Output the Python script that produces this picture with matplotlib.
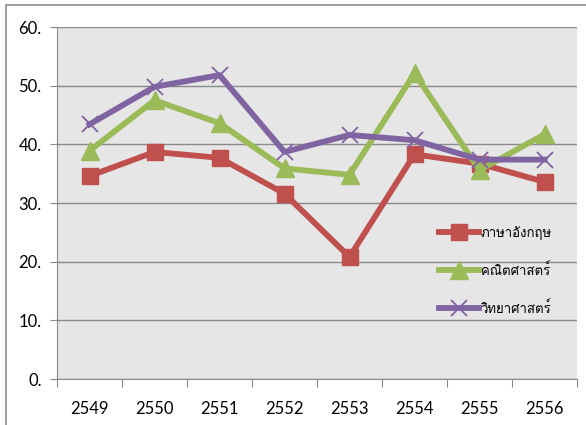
import matplotlib
matplotlib.use("Agg")
import matplotlib.pyplot as plt
from matplotlib import font_manager
from matplotlib.ft2font import FT2Font
from matplotlib.patches import Rectangle

years = ["2549", "2550", "2551", "2552", "2553", "2554", "2555", "2556"]
english = [34.6, 38.7, 37.7, 31.6, 20.8, 38.3, 36.7, 33.6]
math = [38.9, 47.5, 43.6, 35.9, 34.8, 52.1, 35.6, 41.7]
science = [43.4, 49.8, 51.8, 38.7, 41.6, 40.7, 37.4, 37.4]
series_names = ["ภาษาอังกฤษ", "คณิตศาสตร์", "วิทยาศาสตร์"]
yticks = [0, 10, 20, 30, 40, 50, 60]
ytick_labels = ["0.", "10.", "20.", "30.", "40.", "50.", "60."]

# find a font with Thai glyphs
thai_font = None
for f in font_manager.fontManager.ttflist:
    try:
        cm = FT2Font(f.fname).get_charmap()
        if 0x0E20 in cm and 0x0E29 in cm:
            thai_font = f.name
            break
    except Exception:
        pass
fams = ([thai_font] if thai_font else []) + ["DejaVu Sans"]

fig = plt.figure(figsize=(5.86, 4.25), dpi=100)
fig.patch.set_facecolor("white")
fig.patches.append(Rectangle((6/586, -0.02), 1.0, 1 - 5/425 + 0.02, transform=fig.transFigure,
                             fill=False, edgecolor="#8c8c8c", linewidth=1.2))
ax = fig.add_axes([57/586, 1 - 379/425, 520/586, 352/425])
ax.set_facecolor("#e6e6e6")

x = list(range(len(years)))
lw = 4.2
ax.plot(x, english, color="#c0504d", lw=lw, marker="s", markersize=11, label=series_names[0], zorder=3)
ax.plot(x, math, color="#9bbb59", lw=lw, marker="^", markersize=13, label=series_names[1], zorder=3)
ax.plot(x, science, color="#8064a2", lw=lw, marker="x", markersize=12, markeredgewidth=1.3, label=series_names[2], zorder=4)

ax.set_xlim(-0.5, 7.5)
ax.set_ylim(0, 60)
ax.set_yticks(yticks)
ax.set_yticklabels(ytick_labels, fontsize=12, family=["Lato", "DejaVu Sans"])
ax.yaxis.grid(True, color="#8a8a8a", linewidth=1.0)
ax.set_axisbelow(True)
ax.set_xticks([i - 0.5 for i in range(len(years) + 1)])
ax.set_xticklabels([])
ax.set_xticks(x, minor=True)
ax.set_xticklabels(years, minor=True, fontsize=12, family=["Lato", "DejaVu Sans"])
ax.tick_params(axis="x", which="major", length=6, color="#8a8a8a", direction="out")
ax.tick_params(axis="x", which="minor", length=0, pad=16)
ax.tick_params(axis="y", length=5, color="#8a8a8a", pad=6)
for s in ["top", "right"]:
    ax.spines[s].set_visible(False)
for s in ["left", "bottom"]:
    ax.spines[s].set_color("#8a8a8a")

leg = ax.legend(loc="upper left", bbox_to_anchor=(0.725, 0.45), frameon=False,
                prop={"family": fams, "size": 9.5}, handlelength=3.0, handletextpad=0.15,
                labelspacing=1.75, borderaxespad=0)

fig.savefig("out.png", dpi=100)
